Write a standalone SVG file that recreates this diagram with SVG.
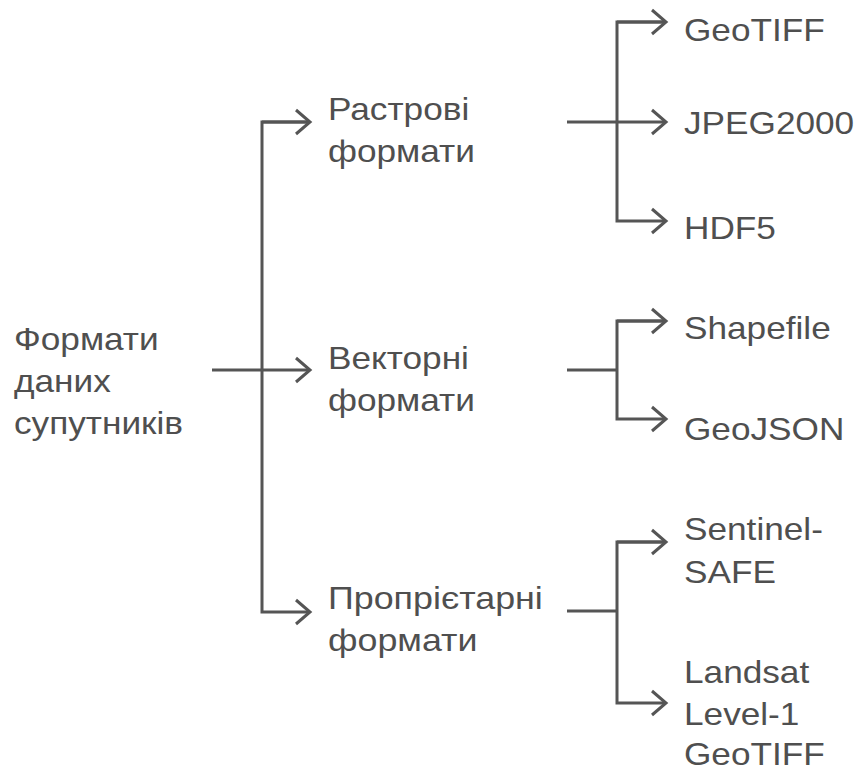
<svg xmlns="http://www.w3.org/2000/svg" width="856" height="771" viewBox="0 0 856 771">
  <style>
    .lbl { font-family: "Liberation Sans", Arial, sans-serif; font-size: 32px; fill: #4f4f4f; }
    .wire { fill: none; stroke: #555555; stroke-width: 3; stroke-linecap: butt; stroke-linejoin: miter; }
  </style>
  <defs>
    <marker id="chev" viewBox="0 0 20 30" refX="17" refY="15" markerWidth="20" markerHeight="30" markerUnits="userSpaceOnUse" orient="auto">
      <path d="M3 3 L17 15 L3 27" fill="none" stroke="#555555" stroke-width="3"/>
    </marker>
  </defs>
  <rect width="856" height="771" fill="#ffffff"/>

  <g id="connectors">
    <!-- root to level 1 -->
    <path class="wire" d="M212 370 H310" marker-end="url(#chev)"/>
    <path class="wire" d="M310 122 H262 V612 H310" marker-end="url(#chev)"/>
    <path class="wire" d="M262 122 H310" marker-end="url(#chev)"/>
    <!-- raster -->
    <path class="wire" d="M567 122 H666" marker-end="url(#chev)"/>
    <path class="wire" d="M666 22 H617 V221 H666" marker-end="url(#chev)"/>
    <path class="wire" d="M617 22 H666" marker-end="url(#chev)"/>
    <!-- vector -->
    <path class="wire" d="M567 370 H617"/>
    <path class="wire" d="M666 321 H617 V419 H666" marker-end="url(#chev)"/>
    <path class="wire" d="M617 321 H666" marker-end="url(#chev)"/>
    <!-- proprietary -->
    <path class="wire" d="M567 611 H617"/>
    <path class="wire" d="M666 542 H617 V703 H666" marker-end="url(#chev)"/>
    <path class="wire" d="M617 542 H666" marker-end="url(#chev)"/>
  </g>

  <!-- labels are set a little wide -->
  <g id="root" transform="translate(14 0) scale(1.1 1)">
    <text class="lbl" x="0" y="350">Формати</text>
    <text class="lbl" x="0" y="392">даних</text>
    <text class="lbl" x="0" y="434">супутників</text>
  </g>

  <g id="raster" transform="translate(328 0) scale(1.1 1)">
    <text class="lbl" x="0" y="120">Растрові</text>
    <text class="lbl" x="0" y="162">формати</text>
  </g>
  <g id="vector" transform="translate(328 0) scale(1.1 1)">
    <text class="lbl" x="0" y="369">Векторні</text>
    <text class="lbl" x="0" y="411">формати</text>
  </g>
  <g id="proprietary" transform="translate(328 0) scale(1.12 1)">
    <text class="lbl" x="0" y="609">Пропрієтарні</text>
    <text class="lbl" x="0" y="651">формати</text>
  </g>

  <g id="geotiff" transform="translate(684 0) scale(1.1 1)"><text class="lbl" x="0" y="41">GeoTIFF</text></g>
  <g id="jpeg2000" transform="translate(684 0) scale(1.1 1)"><text class="lbl" x="0" y="134">JPEG2000</text></g>
  <g id="hdf5" transform="translate(684 0) scale(1.1 1)"><text class="lbl" x="0" y="239">HDF5</text></g>
  <g id="shapefile" transform="translate(684 0) scale(1.1 1)"><text class="lbl" x="0" y="339">Shapefile</text></g>
  <g id="geojson" transform="translate(684 0) scale(1.1 1)"><text class="lbl" x="0" y="440">GeoJSON</text></g>
  <g id="sentinel" transform="translate(684 0) scale(1.1 1)">
    <text class="lbl" x="0" y="540">Sentinel-</text>
    <text class="lbl" x="0" y="583">SAFE</text>
  </g>
  <g id="landsat" transform="translate(684 0) scale(1.1 1)">
    <text class="lbl" x="0" y="683">Landsat</text>
    <text class="lbl" x="0" y="725">Level-1</text>
    <text class="lbl" x="0" y="765">GeoTIFF</text>
  </g>
</svg>
